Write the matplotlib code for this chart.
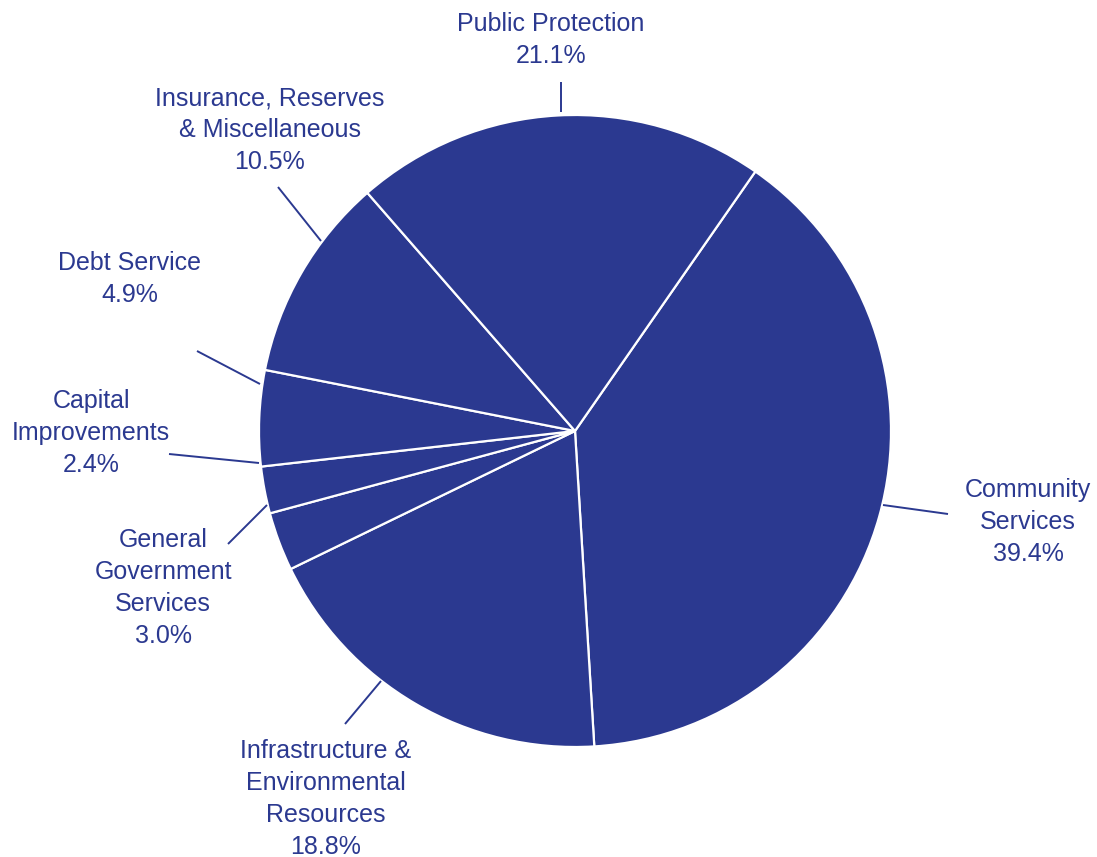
import matplotlib.pyplot as plt

# budget shares by program area (percent)
categories = [
    "Community\nServices",
    "Infrastructure &\nEnvironmental\nResources",
    "General\nGovernment\nServices",
    "Capital\nImprovements",
    "Debt Service",
    "Insurance, Reserves\n& Miscellaneous",
    "Public Protection",
]
shares = [39.4, 18.8, 3.0, 2.4, 4.9, 10.5, 21.1]

BLUE = "#2b3990"
W, H = 1097, 857

# label placement in pixel space: text centre, leader line (outer end, pie end)
label_pos = [
    (1028, 522),
    (326, 799),
    (163, 588),
    (91, 433),
    (130, 279),
    (270, 130),
    (551, 40),
]
leaders = [
    ((948, 514), (883, 505)),
    ((345, 724), (381, 681)),
    ((228, 544), (267, 505)),
    ((169, 454), (259, 463)),
    ((197, 351), (260, 384)),
    ((278, 187), (321, 241)),
    ((561, 82), (561, 112)),
]


def px(x, y):
    # flip image-style y to axis coordinates
    return x, H - y


plt.rcParams["font.family"] = ["Liberation Sans", "DejaVu Sans"]

fig = plt.figure(figsize=(W / 100, H / 100), dpi=100)
ax = fig.add_axes([0, 0, 1, 1])

ax.pie(shares, center=px(575, 431), radius=316, startangle=55.2,
       counterclock=False, colors=[BLUE] * len(shares),
       wedgeprops=dict(edgecolor="white", linewidth=1.6), frame=True)
ax.set_xlim(0, W)
ax.set_ylim(0, H)
ax.set_aspect("equal")
ax.axis("off")

for name, val, (tx, ty), (p0, p1) in zip(categories, shares, label_pos, leaders):
    ax.text(*px(tx, ty), f"{name}\n{val:.1f}%", ha="center", va="center",
            multialignment="center", fontsize=18, color=BLUE, linespacing=1.42)
    x0, y0 = px(*p0)
    x1, y1 = px(*p1)
    ax.plot([x0, x1], [y0, y1], color=BLUE, lw=1.4, solid_capstyle="butt")

fig.savefig("out.png", dpi=100)
